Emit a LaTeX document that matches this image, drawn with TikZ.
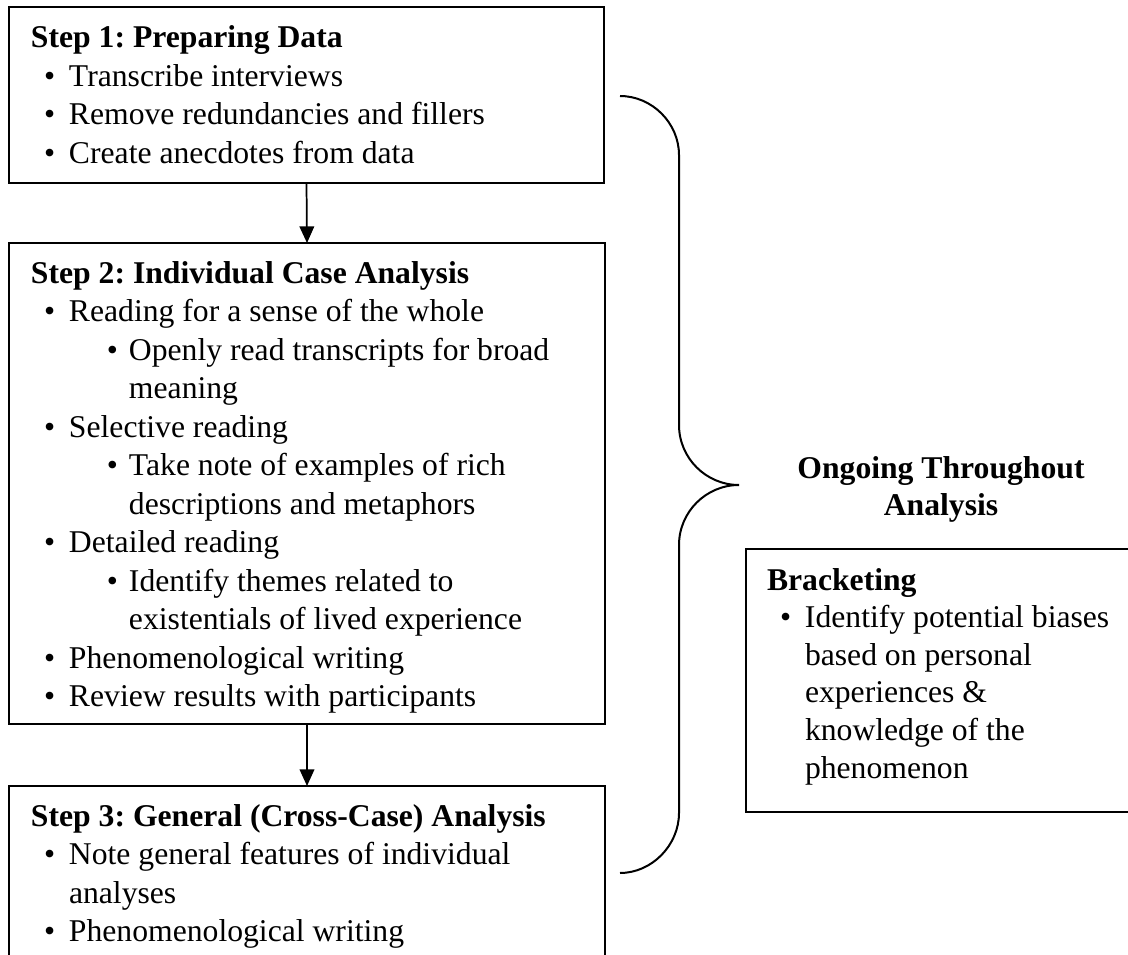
\documentclass[tikz,border=0pt]{standalone}
\usepackage{fontspec}
\setmainfont{Liberation Serif}
\usetikzlibrary{arrows.meta,fit}
\frenchspacing
\newcommand\bl[1]{\hspace*{9.75pt}\makebox[18.75pt][l]{\textbullet}#1}
\newcommand\cl[1]{\hspace*{28.5pt}#1}
\newcommand\sbl[1]{\hspace*{57pt}\makebox[16.5pt][l]{\textbullet}#1}
\newcommand\scl[1]{\hspace*{73.5pt}#1}
\begin{document}
\frenchspacing
\begin{tikzpicture}[x=0.75pt,y=-0.75pt,
  every node/.style={inner sep=0pt,outer sep=0pt,font=\fontsize{23.75}{28.875}\selectfont},
  boxst/.style={draw,line width=1.3pt,inner sep=0pt},
  txt/.style={anchor=base west,align=left},
  conn/.style={line width=1.3pt,-{Triangle[width=11pt,length=12.5pt]}},
  brace/.style={line width=1.5pt}]
\useasboundingbox (0,0) rectangle (1128,955);
\clip (0,0) rectangle (1128,955);
% box corners
\coordinate (a1) at (9,7);     \coordinate (a2) at (604,183);
\coordinate (b1) at (9,243);   \coordinate (b2) at (605,724);
\coordinate (c1) at (9,786);   \coordinate (c2) at (605,975);
\coordinate (d1) at (746,549); \coordinate (d2) at (1145,812);
\node[boxst,fit=(a1)(a2)] (s1) {};
\node[boxst,fit=(b1)(b2)] (s2) {};
\node[boxst,fit=(c1)(c2)] (s3) {};
\node[boxst,fit=(d1)(d2)] (br) {};
% texts (anchored at the baseline of their last line)
\node[txt] (t1) at (31,163.5) {\textbf{Step 1: Preparing Data}\\
\bl{Transcribe interviews}\\
\bl{Remove redundancies and fillers}\\
\bl{Create anecdotes from data}};
\node[txt] (t2) at (31,706.5) {\textbf{Step 2: Individual Case Analysis}\\
\bl{Reading for a sense of the whole}\\
\sbl{Openly read transcripts for broad}\\
\scl{meaning}\\
\bl{Selective reading}\\
\sbl{Take note of examples of rich}\\
\scl{descriptions and metaphors}\\
\bl{Detailed reading}\\
\sbl{Identify themes related to}\\
\scl{existentials of lived experience}\\
\bl{Phenomenological writing}\\
\bl{Review results with participants}};
\node[txt] (t3) at (31,941.5) {\textbf{Step 3: General (Cross-Case) Analysis}\\
\bl{Note general features of individual}\\
\cl{analyses}\\
\bl{Phenomenological writing}};
\node[txt,font=\fontsize{23.75}{28.2}\selectfont] (t4) at (767,778) {\textbf{Bracketing}\\
\bl{Identify potential biases}\\
\cl{based on personal}\\
\cl{experiences \&}\\
\cl{knowledge of the}\\
\cl{phenomenon}};
\node[anchor=base,align=center,font=\fontsize{23.75}{27.75}\selectfont\bfseries] (ong) at (941,515) {Ongoing Throughout\\Analysis};
% connectors
\draw[conn] (s1.south) -- (s2.north);
\draw[conn] (s2.south) -- (s3.north);
% brace
\coordinate (bt) at (620,96);
\coordinate (bm) at (739,485);
\coordinate (bb) at (620,873);
\draw[brace] (bt) .. controls (652,96) and (679,123) .. (679,155) -- (679,425)
  .. controls (679,458) and (706,485) .. (bm)
  .. controls (706,485) and (679,512) .. (679,545) -- (679,813)
  .. controls (679,845) and (652,873) .. (bb);
\end{tikzpicture}
\end{document}
